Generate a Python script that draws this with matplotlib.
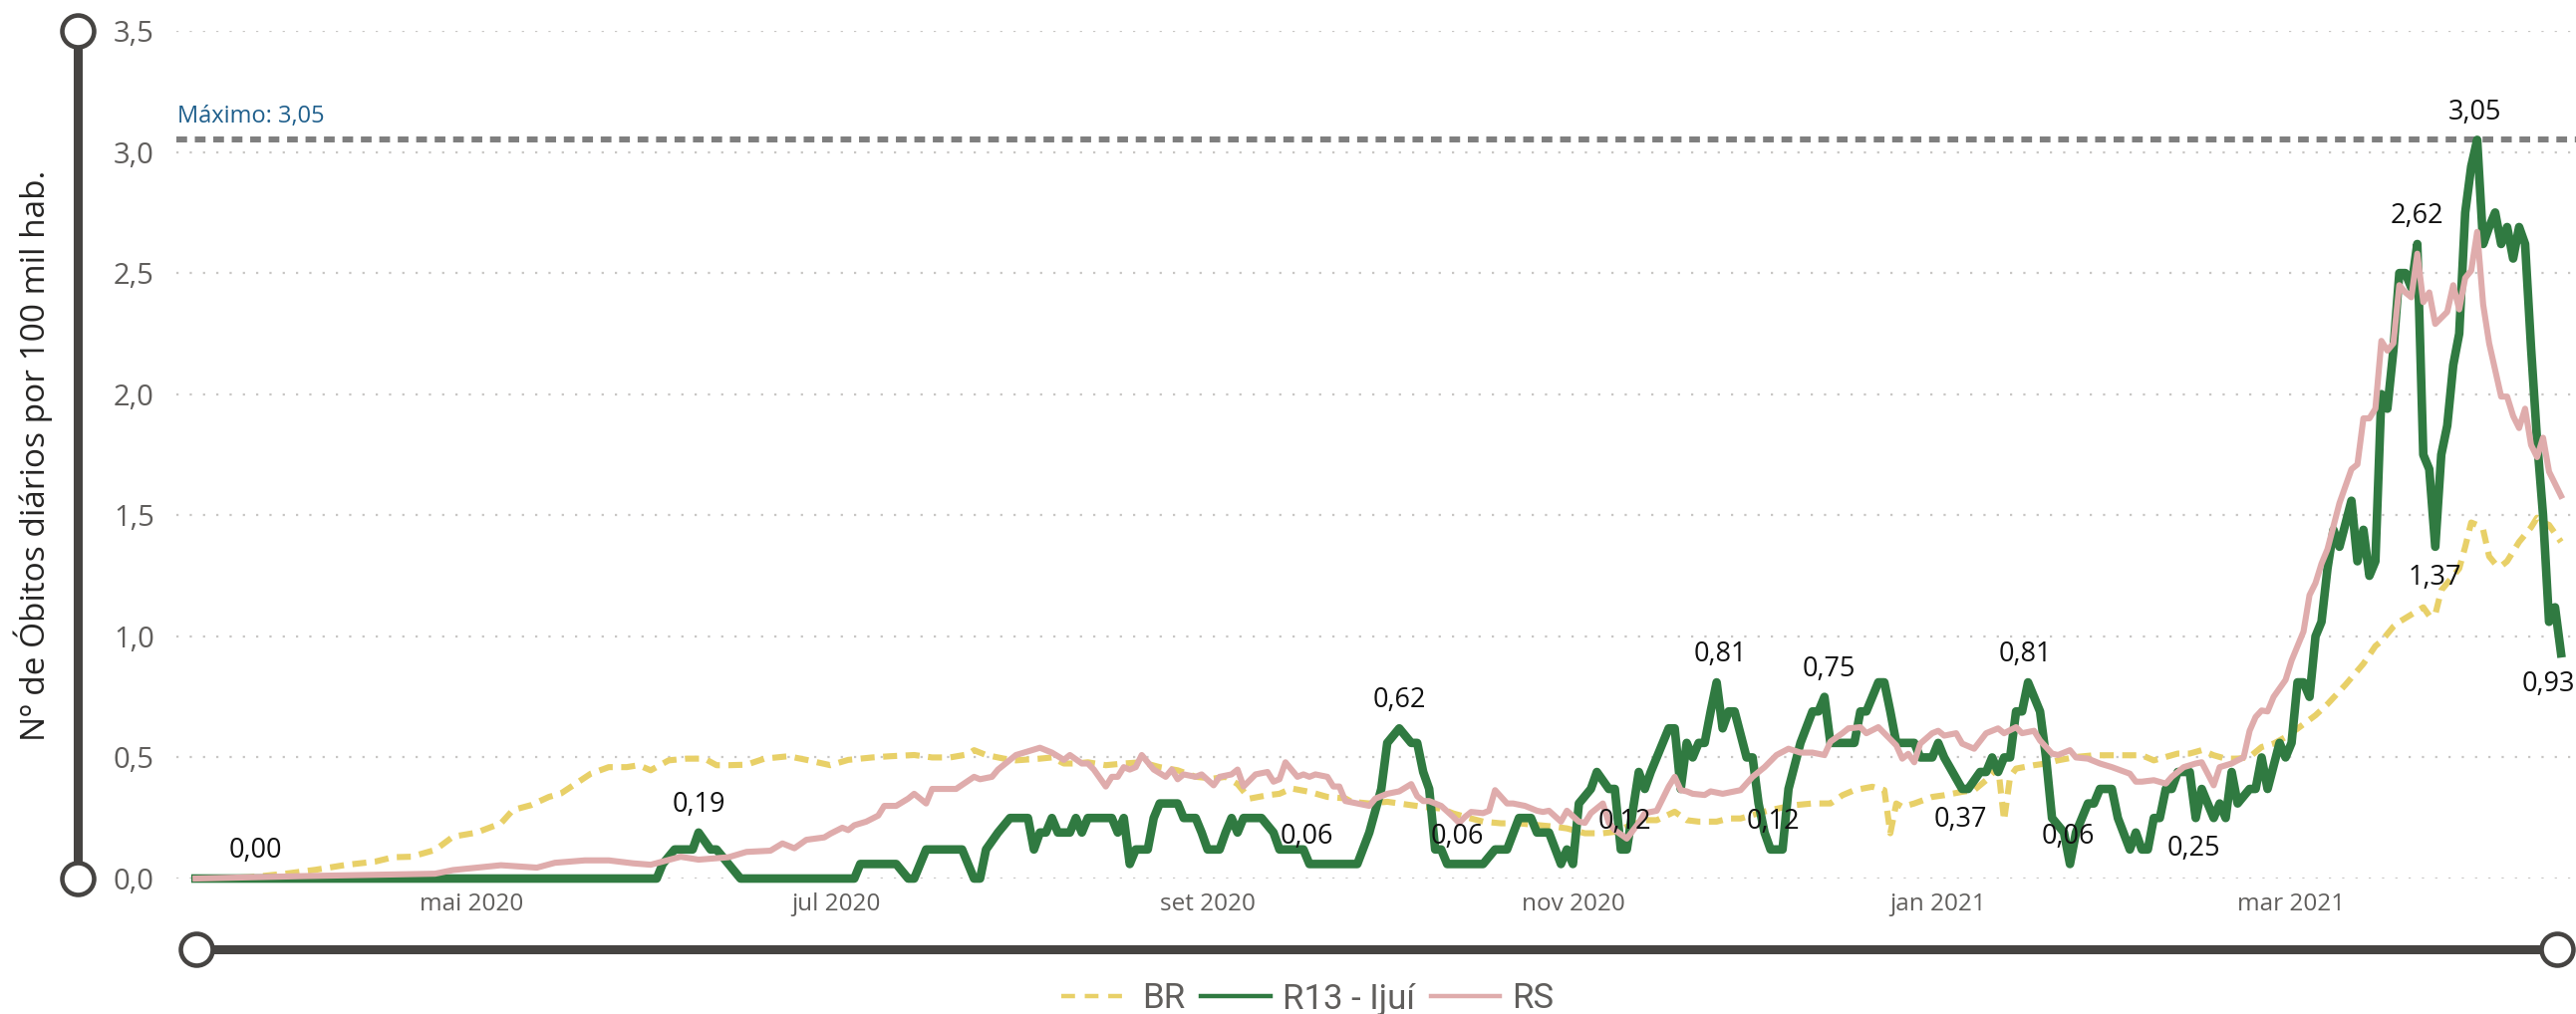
import matplotlib
matplotlib.use("Agg")
import matplotlib.pyplot as plt
from matplotlib.lines import Line2D
import pandas as pd

start = pd.Timestamp("2020-03-16")

# R13 - Ijuí: days since start, daily deaths per 100k
r13_day = [0, 77, 78, 80, 83, 84, 86, 87, 89, 91, 110, 111, 117, 119, 120, 122, 128, 130, 131, 132,
           134, 136, 139, 140, 141, 142, 143, 144, 146, 147, 148, 149, 153, 154, 155, 156, 157, 159, 160, 161,
           164, 165, 167, 168, 169, 171, 172, 173, 174, 175, 178, 180, 181, 185, 186, 194, 196, 198, 199, 201,
           203, 204, 205, 206, 207, 208, 209, 215, 217, 219, 221, 223, 224, 226, 228, 229, 230, 231, 233, 234,
           236, 237, 238, 239, 241, 242, 243, 245, 246, 247, 248, 249, 250, 251, 252, 253, 254, 255, 256, 257,
           259, 260, 261, 262, 263, 265, 266, 268, 270, 271, 272, 273, 277, 278, 279, 281, 282, 283, 284, 287,
           288, 290, 291, 292, 295, 296, 298, 299, 300, 301, 302, 303, 304, 305, 306, 307, 308, 309, 310, 312,
           313, 314, 315, 316, 317, 318, 320, 321, 323, 324, 325, 326, 327, 328, 329, 330, 331, 333, 334, 335,
           336, 337, 338, 339, 340, 341, 343, 344, 345, 346, 348, 349, 350, 351, 352, 353, 354, 355, 356, 357,
           358, 360, 361, 362, 363, 364, 365, 366, 367, 368, 369, 370, 371, 372, 373, 374, 375, 376, 377, 378,
           379, 380, 381, 382, 383, 384, 385, 386, 387, 388, 389, 390, 391, 392, 393, 394, 395]
r13_val = [0, 0, 0.06, 0.12, 0.12, 0.19, 0.12, 0.12, 0.06, 0, 0, 0.06, 0.06, 0, 0, 0.12, 0.12, 0, 0, 0.12,
           0.19, 0.25, 0.25, 0.12, 0.19, 0.19, 0.25, 0.19, 0.19, 0.25, 0.19, 0.25, 0.25, 0.19, 0.25, 0.06, 0.12, 0.12, 0.25, 0.31,
           0.31, 0.25, 0.25, 0.19, 0.12, 0.12, 0.19, 0.25, 0.19, 0.25, 0.25, 0.19, 0.12, 0.12, 0.06, 0.06, 0.19, 0.37, 0.56, 0.62,
           0.56, 0.56, 0.44, 0.37, 0.12, 0.12, 0.06, 0.06, 0.12, 0.12, 0.25, 0.25, 0.19, 0.19, 0.06, 0.12, 0.06, 0.31, 0.37, 0.44,
           0.37, 0.37, 0.12, 0.12, 0.44, 0.37, 0.44, 0.56, 0.62, 0.62, 0.37, 0.56, 0.5, 0.56, 0.56, 0.69, 0.81, 0.62, 0.69, 0.69,
           0.5, 0.5, 0.31, 0.19, 0.12, 0.12, 0.37, 0.56, 0.69, 0.69, 0.75, 0.56, 0.56, 0.69, 0.69, 0.81, 0.81, 0.69, 0.56, 0.56,
           0.5, 0.5, 0.56, 0.5, 0.37, 0.37, 0.44, 0.44, 0.5, 0.44, 0.5, 0.5, 0.69, 0.69, 0.81, 0.75, 0.69, 0.5, 0.25, 0.19,
           0.06, 0.19, 0.25, 0.31, 0.31, 0.37, 0.37, 0.25, 0.12, 0.19, 0.12, 0.12, 0.25, 0.25, 0.37, 0.37, 0.44, 0.44, 0.25, 0.37,
           0.31, 0.25, 0.31, 0.25, 0.44, 0.31, 0.37, 0.37, 0.5, 0.37, 0.56, 0.5, 0.56, 0.81, 0.81, 0.75, 1.0, 1.06, 1.28, 1.44,
           1.37, 1.56, 1.31, 1.44, 1.25, 1.31, 2.0, 1.94, 2.18, 2.5, 2.5, 2.44, 2.62, 1.75, 1.69, 1.37, 1.75, 1.87, 2.12, 2.25,
           2.75, 2.94, 3.05, 2.62, 2.69, 2.75, 2.62, 2.69, 2.56, 2.69, 2.62, 2.19, 1.81, 1.5, 1.06, 1.12, 0.93]

# RS
rs_day = [0, 18, 40, 43, 51, 57, 60, 65, 69, 73, 76, 81, 84, 89, 92, 96, 98, 100, 102, 105,
          106, 108, 109, 110, 112, 114, 115, 117, 119, 120, 122, 123, 127, 130, 131, 133, 134, 137, 141, 143,
          145, 146, 148, 149, 150, 152, 153, 154, 155, 156, 157, 158, 160, 162, 163, 164, 165, 167, 168, 170,
          171, 173, 174, 175, 177, 179, 180, 181, 182, 184, 185, 186, 187, 189, 190, 191, 192, 194, 196, 197,
          199, 201, 203, 204, 205, 206, 208, 210, 211, 212, 213, 215, 216, 217, 219, 220, 222, 224, 225, 226,
          228, 229, 231, 232, 233, 235, 236, 237, 239, 241, 242, 244, 246, 247, 248, 249, 250, 252, 253, 255,
          258, 260, 262, 264, 266, 268, 270, 272, 273, 275, 276, 278, 279, 281, 282, 284, 285, 286, 287, 288,
          290, 291, 292, 294, 295, 297, 299, 300, 301, 302, 304, 305, 307, 308, 310, 311, 313, 314, 316, 318,
          320, 323, 324, 325, 327, 329, 330, 332, 334, 335, 336, 337, 338, 340, 341, 342, 343, 344, 345, 346,
          347, 349, 350, 352, 353, 354, 355, 356, 358, 360, 361, 362, 363, 364, 365, 366, 367, 368, 369, 370,
          371, 372, 373, 374, 376, 377, 378, 379, 380, 381, 382, 383, 384, 385, 386, 387, 388, 389, 390, 391,
          392, 393, 394, 395]
rs_val = [0, 0.01, 0.02, 0.035, 0.055, 0.045, 0.065, 0.075, 0.075, 0.063, 0.057, 0.09, 0.078, 0.088, 0.11, 0.115, 0.145, 0.125, 0.16, 0.17,
          0.185, 0.21, 0.2, 0.22, 0.235, 0.26, 0.3, 0.3, 0.33, 0.35, 0.31, 0.37, 0.37, 0.42, 0.41, 0.42, 0.45, 0.51, 0.54, 0.52,
          0.49, 0.51, 0.475, 0.475, 0.45, 0.38, 0.42, 0.42, 0.46, 0.45, 0.46, 0.51, 0.45, 0.42, 0.45, 0.41, 0.43, 0.42, 0.43, 0.385,
          0.42, 0.43, 0.45, 0.38, 0.43, 0.44, 0.4, 0.41, 0.48, 0.42, 0.43, 0.42, 0.43, 0.42, 0.38, 0.38, 0.32, 0.31, 0.3, 0.33,
          0.35, 0.36, 0.39, 0.34, 0.32, 0.32, 0.3, 0.255, 0.23, 0.255, 0.275, 0.27, 0.28, 0.365, 0.31, 0.31, 0.3, 0.28, 0.275, 0.28,
          0.235, 0.28, 0.235, 0.23, 0.27, 0.31, 0.23, 0.2, 0.165, 0.23, 0.27, 0.28, 0.38, 0.42, 0.365, 0.36, 0.35, 0.345, 0.36, 0.35,
          0.365, 0.42, 0.46, 0.51, 0.536, 0.52, 0.52, 0.51, 0.565, 0.6, 0.62, 0.625, 0.6, 0.625, 0.6, 0.55, 0.495, 0.515, 0.48, 0.557,
          0.6, 0.61, 0.59, 0.6, 0.557, 0.536, 0.6, 0.61, 0.62, 0.6, 0.625, 0.6, 0.61, 0.57, 0.516, 0.51, 0.53, 0.5, 0.495, 0.475,
          0.46, 0.433, 0.4, 0.4, 0.406, 0.392, 0.42, 0.46, 0.475, 0.48, 0.433, 0.385, 0.46, 0.475, 0.488, 0.5, 0.61, 0.667, 0.694, 0.69,
          0.75, 0.82, 0.9, 1.02, 1.17, 1.22, 1.3, 1.36, 1.55, 1.69, 1.71, 1.9, 1.9, 1.94, 2.22, 2.18, 2.21, 2.45, 2.42, 2.4,
          2.58, 2.38, 2.42, 2.29, 2.34, 2.45, 2.35, 2.48, 2.51, 2.67, 2.37, 2.21, 2.1, 1.99, 1.99, 1.91, 1.86, 1.94, 1.79, 1.74,
          1.82, 1.68, 1.63, 1.58]

# BR
br_day = [0, 9, 15, 20, 25, 30, 33, 36, 40, 43, 47, 48, 51, 53, 56, 59, 61, 64, 66, 69,
          72, 74, 76, 79, 82, 85, 87, 89, 92, 95, 99, 102, 106, 109, 113, 116, 120, 123, 126, 129,
          130, 132, 135, 137, 141, 143, 145, 147, 149, 152, 155, 158, 161, 164, 167, 170, 172, 174, 176, 179,
          181, 183, 186, 189, 192, 193, 196, 199, 201, 203, 205, 208, 210, 213, 215, 218, 221, 224, 227, 229,
          232, 235, 237, 239, 242, 244, 247, 249, 251, 254, 256, 258, 261, 263, 267, 270, 273, 275, 277, 280,
          282, 283, 284, 285, 287, 290, 292, 295, 297, 299, 301, 302, 303, 304, 307, 309, 311, 314, 317, 320,
          323, 325, 327, 329, 331, 333, 335, 337, 339, 341, 343, 345, 347, 349, 351, 354, 356, 359, 362, 364,
          365, 367, 368, 372, 373, 374, 375, 378, 379, 380, 381, 382, 383, 384, 385, 386, 388, 390, 391, 392,
          393, 395]
br_val = [0, 0.005, 0.02, 0.036, 0.056, 0.07, 0.088, 0.09, 0.118, 0.173, 0.19, 0.2, 0.228, 0.283, 0.303, 0.337, 0.351, 0.4, 0.433, 0.46,
          0.46, 0.468, 0.447, 0.488, 0.495, 0.495, 0.468, 0.468, 0.47, 0.495, 0.505, 0.49, 0.468, 0.49, 0.5, 0.505, 0.51, 0.5, 0.5, 0.513,
          0.53, 0.51, 0.495, 0.488, 0.495, 0.5, 0.475, 0.475, 0.48, 0.468, 0.475, 0.48, 0.46, 0.447, 0.42, 0.413, 0.42, 0.39, 0.33, 0.344,
          0.35, 0.372, 0.358, 0.337, 0.331, 0.317, 0.31, 0.317, 0.31, 0.303, 0.296, 0.289, 0.269, 0.248, 0.235, 0.228, 0.228, 0.221, 0.214, 0.207,
          0.187, 0.187, 0.193, 0.214, 0.241, 0.241, 0.276, 0.241, 0.235, 0.235, 0.248, 0.248, 0.27, 0.283, 0.303, 0.31, 0.31, 0.344, 0.365, 0.379,
          0.365, 0.187, 0.31, 0.296, 0.31, 0.337, 0.344, 0.358, 0.365, 0.406, 0.461, 0.24, 0.42, 0.454, 0.468, 0.475, 0.488, 0.502, 0.509, 0.509,
          0.509, 0.509, 0.488, 0.502, 0.516, 0.516, 0.53, 0.509, 0.495, 0.495, 0.502, 0.543, 0.557, 0.584, 0.619, 0.674, 0.72, 0.8, 0.887, 0.96,
          0.98, 1.04, 1.06, 1.12, 1.085, 1.09, 1.19, 1.28, 1.37, 1.47, 1.46, 1.44, 1.33, 1.3, 1.29, 1.31, 1.39, 1.45, 1.49, 1.47,
          1.46, 1.39]

# data labels shown on the R13 line
lbl_day = [10, 84, 185.5, 201, 210.7, 238.6, 254.6, 263.4, 272.7, 294.7, 305.5, 312.7, 333.6, 370.9, 380.7, 373.9, 392.9]
lbl_val = [0.00, 0.19, 0.06, 0.62, 0.06, 0.12, 0.81, 0.12, 0.75, 0.37, 0.81, 0.06, 0.25, 2.62, 3.05, 1.37, 0.93]
lbl_side = ["up", "up", "up", "up", "up", "up", "up", "up", "up", "down", "up", "up", "down", "up", "up", "down", "down"]

month_ticks = ["2020-05-01", "2020-07-01", "2020-09-01", "2020-11-01", "2021-01-01", "2021-03-01"]
month_labels = ["mai 2020", "jul 2020", "set 2020", "nov 2020", "jan 2021", "mar 2021"]
y_ticks = [0, 0.5, 1.0, 1.5, 2.0, 2.5, 3.0, 3.5]

YELLOW = "#E8D068"
GREEN = "#307A41"
PINK = "#DFACAC"
DARK = "#464442"
SANS = ["Open Sans", "DejaVu Sans"]
DIN = ["Roboto", "DejaVu Sans"]


def dates(days):
    return start + pd.to_timedelta(days, unit="D")


def br_fmt(v, nd=2):
    return f"{v:.{nd}f}".replace(".", ",")


W, H = 2585, 1018
fig = plt.figure(figsize=(W / 100, H / 100), dpi=100)

# slider chrome drawn in pixel coords
ov = fig.add_axes([0, 0, 1, 1], zorder=0)
ov.set_xlim(0, W)
ov.set_ylim(H, 0)
ov.axis("off")
ov.plot([78, 78], [31, 882], color=DARK, lw=6.5, solid_capstyle="butt")
ov.plot([78, 78], [31, 882], ls="none", marker="o", ms=23, mfc="white", mec=DARK, mew=3.3)
ov.plot([197, 2566], [953, 953], color=DARK, lw=6.5, solid_capstyle="butt")
ov.plot([197, 2566], [953, 953], ls="none", marker="o", ms=23, mfc="white", mec=DARK, mew=3.3)
ov.text(33, 457, "Nº de Óbitos diários por 100 mil hab.", rotation=90, ha="center", va="center",
        fontsize=24, color="#252423", family=SANS)

ax = fig.add_axes([177 / W, 1 - 882 / H, (W - 177) / W, (882 - 31) / H], zorder=1)
ax.set_facecolor("none")

ax.plot(dates(br_day), br_val, color=YELLOW, lw=4.4, dashes=(2.3, 1.4), clip_on=False, zorder=3)
ax.plot(dates(r13_day), r13_val, color=GREEN, lw=6.2, solid_joinstyle="round", clip_on=False, zorder=4)
ax.plot(dates(rs_day), rs_val, color=PINK, lw=4.4, solid_joinstyle="round", clip_on=False, zorder=5)

vmax = max(r13_val)
ax.axhline(vmax, color="#7F7F7F", lw=4.3, dashes=(1.8, 1.3), zorder=2)
ax.annotate(f"Máximo: {br_fmt(vmax)}", xy=(0, vmax), xycoords=("axes fraction", "data"),
            xytext=(1, 8), textcoords="offset points", ha="left", va="bottom",
            fontsize=17, color="#1F5F8C", family=SANS)

for d, v, side in zip(lbl_day, lbl_val, lbl_side):
    off = 20 if side == "up" else -22.5
    ax.annotate(br_fmt(v), xy=(dates(d), v), xytext=(0, off), textcoords="offset points",
                ha="center", va="center", fontsize=19.5, color="#111111", family=SANS, zorder=6)

ax.set_xlim(start - pd.Timedelta(days=3.2), start + pd.Timedelta(days=397.5))
ax.set_ylim(0, 3.5)
ax.set_xticks(pd.to_datetime(month_ticks))
ax.set_xticklabels(month_labels, fontsize=17.5, color="#605E5C", family=SANS)
ax.set_yticks(y_ticks)
ax.set_yticklabels([br_fmt(v, 1) for v in y_ticks], fontsize=21, color="#605E5C", family=SANS)
ax.tick_params(axis="x", length=0, pad=10)
ax.tick_params(axis="y", length=0, pad=16)
ax.yaxis.grid(True, color="#C8C6C4", linestyle=(0, (1, 5)), linewidth=1.6)
ax.set_axisbelow(True)
for s in ax.spines.values():
    s.set_visible(False)

handles = [Line2D([], [], color=YELLOW, lw=3.2, dashes=(3.1, 2.2)),
           Line2D([], [], color=GREEN, lw=3.2),
           Line2D([], [], color=PINK, lw=3.2)]
fig.legend(handles, ["BR", "R13 - Ijuí", "RS"], loc="center", bbox_to_anchor=(1312 / W, 1 - 1003 / H),
           ncol=3, frameon=False, handlelength=2.0, handletextpad=0.35, columnspacing=0.45,
           prop={"family": DIN, "size": 25}, labelcolor="#605E5C")

fig.savefig("out.png", dpi=100)
